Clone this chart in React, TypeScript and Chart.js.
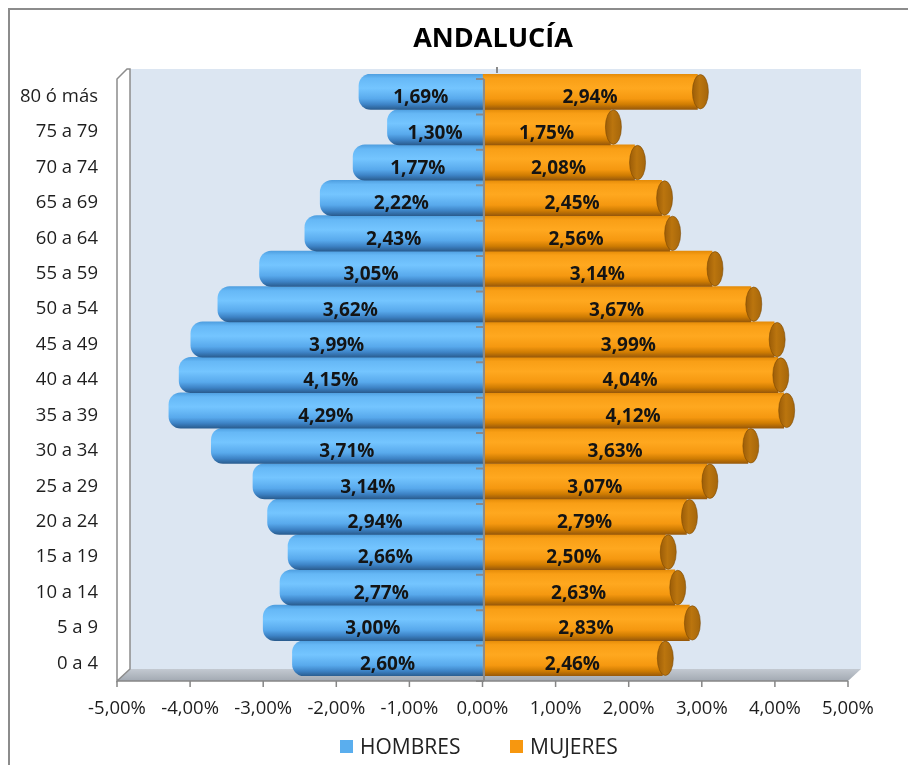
import React, { useEffect, useRef } from 'react';
import { Chart, registerables } from 'chart.js';

Chart.register(...registerables);

const TITLE = 'ANDALUCÍA';
const AGE_GROUPS = [
  '0 a 4', '5 a 9', '10 a 14', '15 a 19', '20 a 24', '25 a 29', '30 a 34', '35 a 39',
  '40 a 44', '45 a 49', '50 a 54', '55 a 59', '60 a 64', '65 a 69', '70 a 74', '75 a 79', '80 ó más',
];
const HOMBRES = [2.60, 3.00, 2.77, 2.66, 2.94, 3.14, 3.71, 4.29, 4.15, 3.99, 3.62, 3.05, 2.43, 2.22, 1.77, 1.30, 1.69];
const MUJERES = [2.46, 2.83, 2.63, 2.50, 2.79, 3.07, 3.63, 4.12, 4.04, 3.99, 3.67, 3.14, 2.56, 2.45, 2.08, 1.75, 2.94];
const SERIES_NAMES = ['HOMBRES', 'MUJERES'];
const X_MIN = -5;
const X_MAX = 5;
const X_STEP = 1;

const FONT = "'Open Sans', 'Noto Sans', sans-serif";
const BLUE = '#5aaeee';
const ORANGE = '#f7970f';

const fmtLabel = (v: number) => Math.abs(v).toFixed(2).replace('.', ',') + '%';
const fmtTick = (v: number) => (Math.abs(v) < 1e-9 ? 0 : v).toFixed(2).replace('.', ',') + '%';

const DX = 13;
const DY = -12;
const FRONT_SHIFT = 5;

function cylinderFill(ctx: any, stops: [number, string][], flat: string) {
  const chart = ctx.chart;
  const y = chart.scales && chart.scales.y;
  if (ctx.type !== 'data' || !y || !chart.chartArea) return flat;
  const c = y.getPixelForValue(ctx.dataIndex);
  const h = (chart.chartArea.bottom - chart.chartArea.top) / AGE_GROUPS.length;
  const g = chart.ctx.createLinearGradient(0, c - h / 2, 0, c + h / 2);
  stops.forEach(([o, col]) => g.addColorStop(o, col));
  return g;
}

const BLUE_STOPS: [number, string][] = [
  [0, '#4f9fe0'], [0.12, '#66b8f6'], [0.4, '#74c5ff'], [0.7, '#58a9ec'], [0.86, '#3d83c6'], [1, '#2a5d90'],
];
const ORANGE_STOPS: [number, string][] = [
  [0, '#e48b08'], [0.12, '#f99f16'], [0.4, '#ffa81f'], [0.7, '#f59810'], [0.86, '#cf7c02'], [1, '#98590a'],
];

const decoPlugin = {
  id: 'deco',
  beforeDraw(chart: any) {
    const { ctx, chartArea } = chart;
    const xs = chart.scales.x;
    const L = xs.getPixelForValue(X_MIN);
    const R = xs.getPixelForValue(X_MAX);
    const T = chartArea.top + FRONT_SHIFT;
    const B = chartArea.bottom + FRONT_SHIFT;
    ctx.save();
    ctx.fillStyle = '#dce6f2';
    ctx.fillRect(L + DX, T + DY + 2, R - L, B - T - 2);
    const fg = ctx.createLinearGradient(0, B + DY, 0, B);
    fg.addColorStop(0, '#c3c9d1');
    fg.addColorStop(1, '#a2a9b2');
    ctx.fillStyle = fg;
    ctx.beginPath();
    ctx.moveTo(L, B);
    ctx.lineTo(R, B);
    ctx.lineTo(R + DX, B + DY);
    ctx.lineTo(L + DX, B + DY);
    ctx.closePath();
    ctx.fill();
    ctx.fillStyle = '#ffffff';
    ctx.strokeStyle = '#8c8c8c';
    ctx.lineWidth = 1.5;
    ctx.beginPath();
    ctx.moveTo(L, B);
    ctx.lineTo(L, T);
    ctx.lineTo(L + DX - 3, T + DY + 2);
    ctx.lineTo(L + DX, T + DY + 2);
    ctx.lineTo(L + DX, B + DY);
    ctx.closePath();
    ctx.fill();
    ctx.stroke();
    ctx.restore();
  },
  afterDatasetsDraw(chart: any) {
    const { ctx, chartArea } = chart;
    const xs = chart.scales.x;
    const T = chartArea.top + FRONT_SHIFT;
    const B = chartArea.bottom + FRONT_SHIFT;
    const band = (chartArea.bottom - chartArea.top) / AGE_GROUPS.length;
    ctx.save();
    const metaM = chart.getDatasetMeta(1);
    metaM.data.forEach((el: any) => {
      const p = el.getProps(['x', 'y', 'height'], true);
      const cx = p.x + 3;
      const ry = p.height / 2 - 0.5;
      const g = ctx.createLinearGradient(cx - 8, 0, cx + 8, 0);
      g.addColorStop(0, '#9c5d08');
      g.addColorStop(0.45, '#bb750e');
      g.addColorStop(1, '#a5660b');
      ctx.fillStyle = g;
      ctx.beginPath();
      ctx.ellipse(cx, p.y, 8, ry, 0, 0, Math.PI * 2);
      ctx.fill();
      ctx.strokeStyle = 'rgba(120,70,0,0.55)';
      ctx.lineWidth = 1;
      ctx.stroke();
    });
    const x0 = xs.getPixelForValue(0) + 1.5;
    ctx.strokeStyle = '#8a8a8a';
    ctx.lineWidth = 2;
    ctx.beginPath();
    ctx.moveTo(x0, T);
    ctx.lineTo(x0, B);
    for (let k = 0; k <= AGE_GROUPS.length; k++) {
      const yy = T + k * band;
      ctx.moveTo(x0 - 8, yy);
      ctx.lineTo(x0, yy);
    }
    ctx.moveTo(x0 + DX, T + DY);
    ctx.lineTo(x0 + DX, chartArea.top - 1);
    ctx.stroke();
    ctx.fillStyle = '#141414';
    ctx.font = `bold 19px ${FONT}`;
    ctx.textAlign = 'center';
    ctx.textBaseline = 'middle';
    [0, 1].forEach((di) => {
      const meta = chart.getDatasetMeta(di);
      const values = chart.data.datasets[di].data;
      meta.data.forEach((el: any, i: number) => {
        const p = el.getProps(['x', 'y', 'base'], true);
        ctx.fillText(fmtLabel(values[i]), (p.x + p.base) / 2, p.y + 6);
      });
    });
    ctx.restore();
  },
  afterDraw(chart: any) {
    const { ctx, chartArea } = chart;
    const xs = chart.scales.x;
    const L = xs.getPixelForValue(X_MIN);
    const R = xs.getPixelForValue(X_MAX);
    const B = chartArea.bottom + FRONT_SHIFT;
    ctx.save();
    ctx.strokeStyle = '#868686';
    ctx.lineWidth = 1.5;
    ctx.beginPath();
    ctx.moveTo(L, B);
    ctx.lineTo(R, B);
    for (let v = X_MIN; v <= X_MAX; v += X_STEP) {
      const px = xs.getPixelForValue(v);
      ctx.moveTo(px, B);
      ctx.lineTo(px, B + 6);
    }
    ctx.stroke();
    ctx.fillStyle = '#000000';
    ctx.font = `bold 27px ${FONT}`;
    ctx.textAlign = 'center';
    ctx.textBaseline = 'alphabetic';
    ctx.fillText(TITLE, 493, 47);
    ctx.font = `21px ${FONT}`;
    ctx.textAlign = 'left';
    const items = [
      { name: SERIES_NAMES[0], color: BLUE, x: 340 },
      { name: SERIES_NAMES[1], color: ORANGE, x: 510 },
    ];
    items.forEach((it) => {
      ctx.fillStyle = it.color;
      ctx.fillRect(it.x, 740, 13, 13);
      ctx.fillStyle = '#222222';
      ctx.fillText(it.name, it.x + 20, 754);
    });
    ctx.restore();
  },
};

export default function App() {
  const canvasRef = useRef<HTMLCanvasElement | null>(null);

  useEffect(() => {
    document.body.style.margin = '0';
    document.body.style.overflow = 'hidden';
    const canvas = canvasRef.current;
    if (!canvas) return;
    const chart = new Chart(canvas, {
      type: 'bar',
      data: {
        labels: AGE_GROUPS,
        datasets: [
          {
            label: SERIES_NAMES[0],
            data: HOMBRES.map((v) => -v),
            backgroundColor: (c: any) => cylinderFill(c, BLUE_STOPS, BLUE),
            borderWidth: 0,
            borderRadius: 12,
            borderSkipped: 'start',
            barPercentage: 1,
            categoryPercentage: 1,
          },
          {
            label: SERIES_NAMES[1],
            data: MUJERES,
            backgroundColor: (c: any) => cylinderFill(c, ORANGE_STOPS, ORANGE),
            borderWidth: 0,
            barPercentage: 1,
            categoryPercentage: 1,
          },
        ],
      },
      options: {
        indexAxis: 'y',
        responsive: false,
        animation: false,
        layout: { padding: { top: 74, right: 60, bottom: 39, left: 0 } },
        plugins: {
          legend: { display: false },
          title: { display: false },
          tooltip: { enabled: false },
        },
        scales: {
          x: {
            stacked: true,
            min: X_MIN,
            max: X_MAX,
            ticks: {
              stepSize: X_STEP,
              callback: (v: any) => fmtTick(Number(v)),
              font: { family: FONT, size: 18.5 },
              color: '#1e1e1e',
              padding: 22,
              maxRotation: 0,
            },
            grid: { display: false, drawTicks: false },
            border: { display: false },
            afterFit: (s: any) => { s.height = 50; },
          },
          y: {
            stacked: true,
            reverse: true,
            ticks: {
              font: { family: FONT, size: 18.5 },
              color: '#1e1e1e',
              padding: 19,
              labelOffset: FRONT_SHIFT,
              autoSkip: false,
            },
            grid: { display: false, drawTicks: false },
            border: { display: false },
            afterFit: (s: any) => { s.width = 117; },
          },
        },
      },
      plugins: [decoPlugin],
    });
    return () => chart.destroy();
  }, []);

  return (
    <div>
      <canvas
        ref={canvasRef}
        width={908}
        height={765}
        style={{ position: 'fixed', left: 0, top: 0, width: 908, height: 765, display: 'block' }}
      />
      <div
        style={{
          position: 'fixed', left: 8, top: 8, width: 1200, height: 1200,
          border: '2px solid #8c8c8c', pointerEvents: 'none', boxSizing: 'border-box',
        }}
      />
    </div>
  );
}
